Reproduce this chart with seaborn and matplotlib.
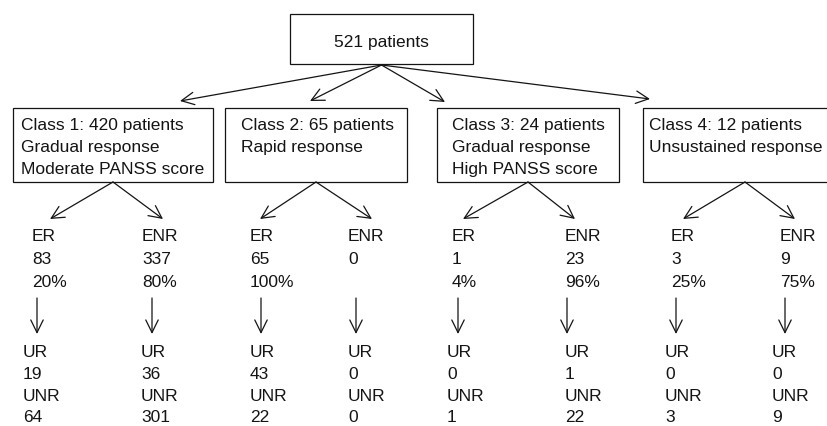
import matplotlib
matplotlib.use("Agg")
import matplotlib.pyplot as plt
from matplotlib.patches import Rectangle
import seaborn as sns

# ---- data ----
total_patients = 521
class_labels = ["Class 1", "Class 2", "Class 3", "Class 4"]
class_counts = [420, 65, 24, 12]
class_response = ["Gradual response", "Rapid response", "Gradual response", "Unsustained response"]
class_panss = ["Moderate PANSS score", "", "High PANSS score", ""]
er_counts = [83, 65, 1, 3]
enr_counts = [337, 0, 23, 9]
er_pct = ["20%", "100%", "4%", "25%"]
enr_pct = ["80%", "", "96%", "75%"]
ur_of_er = [19, 43, 0, 0]
unr_of_er = [64, 22, 1, 3]
ur_of_enr = [36, 0, 1, 0]
unr_of_enr = [301, 0, 22, 9]

# ---- layout (pixel coordinates) ----
top_box = (290, 15, 473, 65)
class_box_x = [(13, 213), (225, 407), (437, 619), (643, 860)]
class_box_y = (109, 183)
class_text_x = [21, 241, 452, 649]
class_arrow_tips = [(180, 102), (310, 102), (445, 103), (650, 100)]
split_tips = [((50, 220), (163, 220)), ((260, 220), (372, 220)),
              ((463, 220), (575, 220)), ((683, 220), (795, 220))]
mid_text_x = [(32, 142), (250, 348), (452, 565), (671, 780)]
down_arrow_x = [(37, 152), (261, 356), (458, 567), (676, 785)]
bot_text_x = [(23, 141), (250, 348), (447, 565), (665, 772)]

sns.set_theme(style="white")
plt.rcParams["font.family"] = ["Liberation Sans", "DejaVu Sans"]

FS = 12.5
LW = 0.9
INK = "#141414"
fig = plt.figure(figsize=(8.27, 4.27), dpi=100)
ax = fig.add_axes([0, 0, 1, 1])
ax.set_xlim(0, 827)
ax.set_ylim(427, 0)
ax.axis("off")

def arrow(x0, y0, x1, y1):
    ax.annotate("", xy=(x1, y1), xytext=(x0, y0),
                arrowprops=dict(arrowstyle="->,head_length=0.65,head_width=0.32",
                                lw=LW, color=INK, shrinkA=0, shrinkB=0,
                                mutation_scale=14))

def txt(x, y, s, ha="left"):
    ax.text(x, y, s, ha=ha, va="baseline", fontsize=FS, color=INK)

# top box
x0, y0, x1, y1 = top_box
ax.add_patch(Rectangle((x0, y0), x1 - x0, y1 - y0, fill=False, lw=LW, ec=INK))
txt((x0 + x1) / 2, 46.5, f"{total_patients} patients", ha="center")
apex = ((x0 + x1) / 2, y1 + 1)

for i in range(4):
    # arrow from top box
    arrow(apex[0], apex[1], *class_arrow_tips[i])
    bx0, bx1 = class_box_x[i]
    by0, by1 = class_box_y
    ax.add_patch(Rectangle((bx0, by0), bx1 - bx0, by1 - by0, fill=False, lw=LW,
                           ec=INK, clip_on=True))
    lines = [f"{class_labels[i]}: {class_counts[i]} patients", class_response[i]]
    if class_panss[i]:
        lines.append(class_panss[i])
    for k, s in enumerate(lines):
        txt(class_text_x[i], 130.5 + 21.8 * k, s)
    cx = (bx0 + bx1) / 2 if i < 3 else 745
    (lx, ly), (rx, ry) = split_tips[i]
    arrow(cx, by1, lx, ly)
    arrow(cx, by1, rx, ry)

    # ER / ENR
    ex, nx = mid_text_x[i]
    for k, s in enumerate(["ER", str(er_counts[i]), er_pct[i]]):
        txt(ex, 241.5 + 23 * k, s)
    for k, s in enumerate(["ENR", str(enr_counts[i]), enr_pct[i]]):
        if s:
            txt(nx, 241.5 + 23 * k, s)

    # down arrows
    dx1, dx2 = down_arrow_x[i]
    arrow(dx1, 299, dx1, 335)
    arrow(dx2, 299, dx2, 335)

    # UR / UNR
    ux, vx = bot_text_x[i]
    for k, s in enumerate(["UR", str(ur_of_er[i]), "UNR", str(unr_of_er[i])]):
        txt(ux, 357 + 21.8 * k, s)
    for k, s in enumerate(["UR", str(ur_of_enr[i]), "UNR", str(unr_of_enr[i])]):
        txt(vx, 357 + 21.8 * k, s)

fig.savefig("out.png", dpi=100, facecolor="white")
